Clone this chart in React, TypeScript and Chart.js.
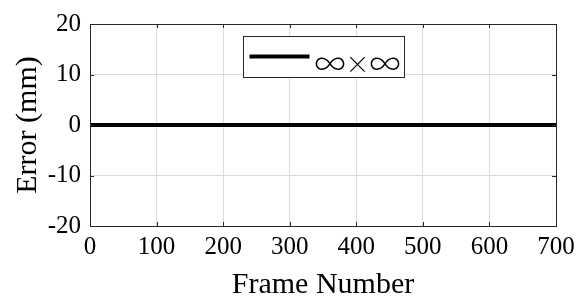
import React, { useEffect, useRef } from "react";
import { Chart, registerables } from "chart.js";
Chart.register(...registerables);

const frames = [0, 100, 200, 300, 400, 500, 600, 700];
const errors = [0, 0, 0, 0, 0, 0, 0, 0];
const seriesLabel = "∞×∞";
const xTitle = "Frame Number";
const yTitle = "Error (mm)";
const xRange = [0, 700];
const yRange = [-20, 20];
const xStep = 100;
const yStep = 10;

const FONT = "'Liberation Serif', 'Times New Roman', serif";
const AXIS = "#262626";

const glyphFont = (ch: string) =>
  ch === "∞"
    ? `300 31px 'Noto Sans CJK JP', 'DejaVu Sans', sans-serif`
    : `300 24px 'Noto Sans CJK JP', 'DejaVu Sans', sans-serif`;

const boxPlugin = {
  id: "matlabBox",
  afterDatasetsDraw(chart: any) {
    const { ctx, chartArea: a, scales } = chart;
    ctx.save();
    // inner ticks
    ctx.strokeStyle = AXIS;
    ctx.lineWidth = 1;
    const tl = 4;
    ctx.beginPath();
    scales.x.ticks.forEach((t: any) => {
      const px = Math.round(scales.x.getPixelForValue(t.value)) + 0.5;
      ctx.moveTo(px, a.bottom);
      ctx.lineTo(px, a.bottom - tl);
      ctx.moveTo(px, a.top);
      ctx.lineTo(px, a.top + tl);
    });
    scales.y.ticks.forEach((t: any) => {
      const py = Math.round(scales.y.getPixelForValue(t.value)) + 0.5;
      ctx.moveTo(a.left, py);
      ctx.lineTo(a.left + tl, py);
      ctx.moveTo(a.right, py);
      ctx.lineTo(a.right - tl, py);
    });
    ctx.stroke();
    // box
    ctx.strokeRect(Math.round(a.left) + 0.5, Math.round(a.top) + 0.5, Math.round(a.right - a.left), Math.round(a.bottom - a.top));
    // legend
    const ds = chart.data.datasets[0];
    const chars = Array.from(ds.label as string);
    const letterGap = 0;
    const widths = chars.map((ch) => {
      ctx.font = glyphFont(ch);
      return ctx.measureText(ch).width;
    });
    const tw = widths.reduce((s, w) => s + w, 0) + letterGap * (chars.length - 1);
    const padL = 6, lineLen = 60, gap = 5, padR = 4;
    const bw = Math.round(padL + lineLen + gap + tw + padR);
    const bh = 41;
    const cx = (a.left + a.right) / 2;
    const bx = Math.round(cx - bw / 2) + 0.5;
    const by = Math.round(a.top + 12) + 0.5;
    ctx.fillStyle = "#ffffff";
    ctx.fillRect(bx, by, bw, bh);
    ctx.strokeStyle = AXIS;
    ctx.lineWidth = 1;
    ctx.strokeRect(bx, by, bw, bh);
    const ly = by + 20;
    ctx.strokeStyle = ds.borderColor;
    ctx.lineWidth = ds.borderWidth;
    ctx.beginPath();
    ctx.moveTo(bx + padL, ly);
    ctx.lineTo(bx + padL + lineLen, ly);
    ctx.stroke();
    ctx.fillStyle = "#000000";
    ctx.textBaseline = "middle";
    ctx.textAlign = "left";
    let tx = bx + padL + lineLen + gap;
    chars.forEach((ch, i) => {
      ctx.font = glyphFont(ch);
      ctx.fillText(ch, tx, by + 27);
      tx += widths[i] + letterGap;
    });
    ctx.restore();
  },
};

export default function App() {
  const ref = useRef<HTMLCanvasElement>(null);
  useEffect(() => {
    if (!ref.current) return;
    const chart = new Chart(ref.current, {
      type: "line",
      data: {
        labels: frames,
        datasets: [
          {
            label: seriesLabel,
            data: frames.map((f, i) => ({ x: f, y: errors[i] })),
            borderColor: "#000000",
            borderWidth: 4,
            pointRadius: 0,
            fill: false,
          },
        ],
      },
      options: {
        animation: false,
        responsive: false,
        maintainAspectRatio: false,
        layout: { padding: { left: 0, right: 29, top: 21, bottom: 0 } },
        plugins: { legend: { display: false }, tooltip: { enabled: false } },
        scales: {
          x: {
            type: "linear",
            min: xRange[0],
            max: xRange[1],
            ticks: { stepSize: xStep, color: "#000", font: { family: FONT, size: 25 }, padding: 6, maxRotation: 0 },
            grid: { color: "#dcdcdc", drawTicks: false, lineWidth: 1 },
            border: { display: false },
            title: { display: true, text: xTitle, color: "#000", font: { family: FONT, size: 30, lineHeight: 1 }, padding: { top: 0, bottom: 0 } },
            afterFit: (s: any) => { s.height = 74; },
          },
          y: {
            min: yRange[0],
            max: yRange[1],
            ticks: { stepSize: yStep, color: "#000", font: { family: FONT, size: 25 }, padding: 9 },
            grid: { color: "#dcdcdc", drawTicks: false, lineWidth: 1 },
            border: { display: false },
            title: { display: true, text: yTitle, color: "#000", font: { family: FONT, size: 30, lineHeight: 1 }, padding: { top: 13, bottom: 0 } },
            afterFit: (s: any) => { s.width = 90; },
          },
        },
      },
      plugins: [boxPlugin],
    });
    return () => chart.destroy();
  }, []);
  return (
    <div style={{ position: "absolute", left: 0, top: 0, width: 585, height: 300, background: "#fff" }}>
      <canvas ref={ref} width={585} height={300} style={{ width: 585, height: 300 }} />
    </div>
  );
}
